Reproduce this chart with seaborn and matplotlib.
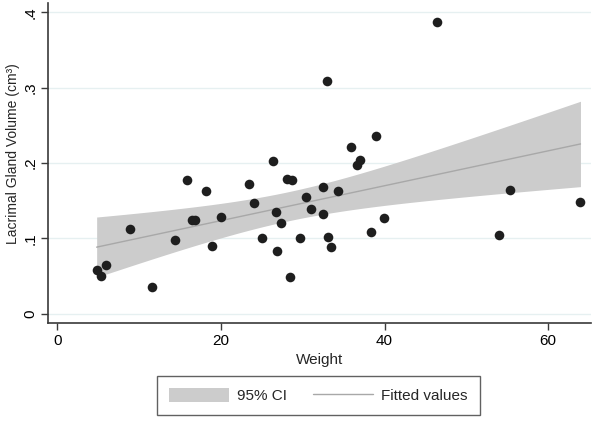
import numpy as np
import pandas as pd
import seaborn as sns
import matplotlib.pyplot as plt
from matplotlib.patches import Patch
from matplotlib.lines import Line2D

# values
weight = [4.81, 5.40, 5.91, 8.88, 11.63, 14.38, 15.81, 16.52, 16.82, 18.17,
          18.94, 19.96, 23.46, 24.07, 25.05, 26.39, 26.68, 26.84, 27.37, 28.12,
          28.70, 28.47, 29.68, 30.35, 31.00, 32.43, 32.43, 32.99, 33.07, 33.40,
          34.26, 35.94, 36.65, 36.98, 38.33, 38.94, 39.95, 46.43, 54.05, 55.35,
          63.95]
volume = [0.058, 0.050, 0.065, 0.112, 0.036, 0.098, 0.178, 0.125, 0.125, 0.163,
          0.090, 0.128, 0.172, 0.147, 0.100, 0.203, 0.135, 0.083, 0.121, 0.179,
          0.178, 0.049, 0.101, 0.155, 0.139, 0.168, 0.133, 0.309, 0.102, 0.089,
          0.163, 0.221, 0.197, 0.204, 0.108, 0.236, 0.127, 0.387, 0.105, 0.164,
          0.148]
x_ticks = [0, 20, 40, 60]
y_ticks = [0, 0.1, 0.2, 0.3, 0.4]
y_tick_labels = ["0", ".1", ".2", ".3", ".4"]

df = pd.DataFrame({"Weight": weight, "Volume": volume})

BAND = "#cccccc"
LINE = "#a8a8a8"
DOT = "#1e1e1e"
AXIS = "#3a3a3a"


def fit_ci(x, y, t_crit=2.0227):
    # analytic 95% CI of the mean prediction (like Stata's lfitci)
    x = np.asarray(x)
    y = np.asarray(y)
    b, a = np.polyfit(x, y, 1)
    resid = y - (a + b * x)
    s = np.sqrt(np.sum(resid ** 2) / (len(x) - 2))
    grid = np.linspace(x.min(), x.max(), 200)
    se = s * np.sqrt(1 / len(x) + (grid - x.mean()) ** 2 / np.sum((x - x.mean()) ** 2))
    fit = a + b * grid
    return grid, fit - t_crit * se, fit + t_crit * se


sns.set_theme(style="white")
plt.rcParams["font.family"] = ["Liberation Sans", "DejaVu Sans"]

fig = plt.figure(figsize=(6, 4.23), dpi=100)
ax = fig.add_axes([0.0805, 0.237, 0.904, 0.756])

grid, lo, hi = fit_ci(weight, volume)
ax.fill_between(grid, lo, hi, color=BAND, lw=0, zorder=1)

sns.regplot(data=df, x="Weight", y="Volume", ax=ax, scatter=False, ci=None,
            truncate=True, line_kws={"color": LINE, "lw": 1.0, "zorder": 2})

sns.scatterplot(data=df, x="Weight", y="Volume", ax=ax, color=DOT, s=48,
                linewidth=0, zorder=3)

ax.set_xlim(-1.1, 65.2)
ax.set_ylim(-0.012, 0.4126)
ax.set_xticks(x_ticks)
ax.set_yticks(y_ticks)
ax.set_yticklabels(y_tick_labels, rotation=90, va="center")
ax.tick_params(axis="both", direction="out", length=5, width=1, color=AXIS,
               labelsize=11, labelcolor="black", left=True, bottom=True, pad=3)
ax.yaxis.grid(True, color="#e6f0f1", lw=1)
ax.xaxis.grid(False)
ax.set_axisbelow(True)
for side in ["top", "right"]:
    ax.spines[side].set_visible(False)
for side in ["left", "bottom"]:
    ax.spines[side].set_color(AXIS)
    ax.spines[side].set_linewidth(1.2)

ax.set_xlabel("Weight", fontsize=11, labelpad=4)
ax.set_ylabel("Lacrimal Gland Volume (cm³)", fontsize=10)
ax.yaxis.set_label_coords(-0.052, 0.53)

handles = [Patch(facecolor=BAND, edgecolor="none", label="95% CI"),
           Line2D([0], [0], color=LINE, lw=1.0, label="Fitted values")]
leg = fig.legend(handles=handles, loc="center", bbox_to_anchor=(0.531, 0.065),
                 ncol=2, fontsize=11, frameon=True, fancybox=False,
                 handlelength=3.9, handleheight=1.1, columnspacing=1.7,
                 borderpad=0.8, handletextpad=0.55, borderaxespad=0)
leg.get_frame().set_edgecolor(AXIS)
leg.get_frame().set_linewidth(1.0)

fig.savefig("out.png", dpi=100)
